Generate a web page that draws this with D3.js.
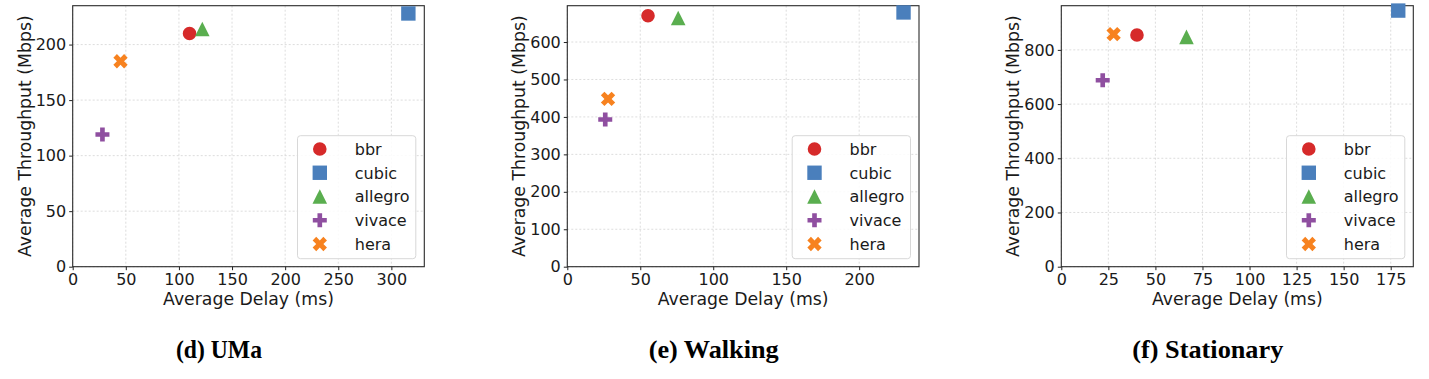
<!DOCTYPE html>
<html>
<head>
<meta charset="utf-8">
<script src="https://cdn.jsdelivr.net/npm/d3@7"></script>
<style>
  body { margin: 0; background: #fff; }
  text { font-family: "DejaVu Sans", sans-serif; fill: #1a1a1a; }
  .caption { font-family: "Liberation Serif", serif; font-weight: bold; fill: #000; }
</style>
</head>
<body>
<div id="chart"></div>
<script>
// schemes, same order in every panel
var methods = ["bbr", "cubic", "allegro", "vivace", "hera"];
var colors = ["#d62a2a", "#4a7fbc", "#5aae4f", "#8f4fa0", "#f7821f"];
var shapes = ["circle", "square", "triangle", "plus", "x"];

// (d) UMa
var umaDelay = [110, 316, 122, 28, 45];
var umaTput = [210, 228, 214, 119, 185];
// (e) Walking
var walkDelay = [55.3, 230.4, 76, 26, 27.9];
var walkTput = [670, 679, 664, 393, 448];
// (f) Stationary
var statDelay = [40.2, 179, 66.5, 22, 27.8];
var statTput = [855, 945, 848, 688, 858];

var captions = ["(d) UMa", "(e) Walking", "(f) Stationary"];
var xMax = [331, 241, 187];
var yMax = [235, 697, 963];
var xTicks = [[0, 50, 100, 150, 200, 250, 300], [0, 50, 100, 150, 200], [0, 25, 50, 75, 100, 125, 150, 175]];
var yTicks = [[0, 50, 100, 150, 200], [0, 100, 200, 300, 400, 500, 600], [0, 200, 400, 600, 800]];

var delays = [umaDelay, walkDelay, statDelay];
var tputs = [umaTput, walkTput, statTput];

var W = 1429, H = 379;
var lefts = [72.7, 567.3, 1061.3];
var rights = [424.3, 919, 1413.3];
var top0 = 5.7, bottom0 = 266.7;
var capWidths = [86, 130, 151];

var svg = d3.select("#chart").append("svg")
  .attr("width", W)
  .attr("height", H);

function markerPath(kind) {
  var p;
  if (kind == "circle") {
    p = d3.path();
    p.arc(0, 0, 6.8, 0, 2 * Math.PI);
    return p.toString();
  }
  if (kind == "square") {
    var s = 7.2;
    return "M" + (-s) + "," + (-s) + "H" + s + "V" + s + "H" + (-s) + "Z";
  }
  if (kind == "triangle") {
    var s = 7.3;
    return "M0," + (-s) + "L" + s + "," + s + "L" + (-s) + "," + s + "Z";
  }
  // plus and x share the same outline, x is turned 45deg
  var s = kind == "plus" ? 7 : 7.6;
  var t = s / 3;
  var pts = [[-t, -s], [t, -s], [t, -t], [s, -t], [s, t], [t, t], [t, s], [-t, s], [-t, t], [-s, t], [-s, -t], [-t, -t]];
  if (kind == "x") {
    var c = Math.SQRT1_2;
    pts = pts.map(function(q) { return [c * (q[0] - q[1]), c * (q[0] + q[1])]; });
  }
  return "M" + pts.map(function(q) { return q[0].toFixed(2) + "," + q[1].toFixed(2); }).join("L") + "Z";
}

for (var i = 0; i < 3; i++) {
  var left = lefts[i], right = rights[i];

  var x = d3.scaleLinear().domain([0, xMax[i]]).range([left, right]);
  var y = d3.scaleLinear().domain([0, yMax[i]]).range([bottom0, top0]);

  var g = svg.append("g").attr("class", "panel" + i);

  // grid
  g.append("g").selectAll("line.gx")
    .data(xTicks[i])
    .enter().append("line")
    .attr("x1", function(d) { return x(d); })
    .attr("x2", function(d) { return x(d); })
    .attr("y1", top0)
    .attr("y2", bottom0)
    .attr("stroke", "#d4d4d4")
    .attr("stroke-width", 0.8)
    .attr("stroke-dasharray", "2,2");

  g.append("g").selectAll("line.gy")
    .data(yTicks[i])
    .enter().append("line")
    .attr("x1", left)
    .attr("x2", right)
    .attr("y1", function(d) { return y(d); })
    .attr("y2", function(d) { return y(d); })
    .attr("stroke", "#d4d4d4")
    .attr("stroke-width", 0.8)
    .attr("stroke-dasharray", "2,2");

  // axes
  var xAxis = g.append("g")
    .attr("transform", "translate(0," + bottom0 + ")")
    .call(d3.axisBottom(x).tickValues(xTicks[i]).tickSize(3.5).tickPadding(3.5).tickSizeOuter(0));
  var yAxis = g.append("g")
    .attr("transform", "translate(" + left + ",0)")
    .call(d3.axisLeft(y).tickValues(yTicks[i]).tickSize(3.5).tickPadding(3).tickSizeOuter(0));

  [xAxis, yAxis].forEach(function(a) {
    a.select(".domain").remove();
    a.selectAll("line").attr("stroke", "#222").attr("stroke-width", 1);
    a.selectAll("text")
      .style("font-family", "DejaVu Sans")
      .style("font-size", "16px")
      .attr("fill", "#1a1a1a");
  });

  // frame
  g.append("rect")
    .attr("x", left)
    .attr("y", top0)
    .attr("width", right - left)
    .attr("height", bottom0 - top0)
    .attr("fill", "none")
    .attr("stroke", "#2a2a2a")
    .attr("stroke-width", 1.1);

  // axis labels
  g.append("text")
    .attr("x", (left + right) / 2)
    .attr("y", 304.5)
    .attr("text-anchor", "middle")
    .style("font-size", "17.3px")
    .text("Average Delay (ms)");

  g.append("text")
    .attr("transform", "translate(" + (left - 48) + "," + ((top0 + bottom0) / 2) + ") rotate(-90)")
    .attr("text-anchor", "middle")
    .attr("dominant-baseline", "central")
    .style("font-size", "17.3px")
    .text("Average Throughput (Mbps)");

  // points
  var pts = methods.map(function(m, k) {
    return { name: m, d: delays[i][k], t: tputs[i][k], color: colors[k], shape: shapes[k] };
  });

  g.append("g").selectAll("path")
    .data(pts)
    .enter().append("path")
    .attr("transform", function(d) { return "translate(" + x(d.d) + "," + y(d.t) + ")"; })
    .attr("d", function(d) { return markerPath(d.shape); })
    .attr("fill", function(d) { return d.color; });

  // legend
  var lx = right - 8.5 - 118.3;
  var leg = g.append("g");
  leg.append("rect")
    .attr("x", lx)
    .attr("y", 135.7)
    .attr("width", 118.3)
    .attr("height", 123)
    .attr("rx", 3)
    .attr("fill", "#fff")
    .attr("fill-opacity", 0.85)
    .attr("stroke", "#d8d8d8")
    .attr("stroke-width", 1);

  var row = leg.selectAll("g.row")
    .data(pts)
    .enter().append("g")
    .attr("transform", function(d, k) { return "translate(" + lx + "," + (149 + k * 23.75) + ")"; });

  row.append("path")
    .attr("transform", "translate(22.3,0)")
    .attr("d", function(d) { return markerPath(d.shape); })
    .attr("fill", function(d) { return d.color; });

  row.append("text")
    .attr("x", 57.3)
    .attr("dy", "0.36em")
    .style("font-size", "16px")
    .text(function(d) { return d.name; });

  // caption
  svg.append("text")
    .attr("class", "caption")
    .attr("x", (left + right) / 2 - 29.5)
    .attr("y", 357.5)
    .attr("text-anchor", "middle")
    .attr("textLength", capWidths[i])
    .attr("lengthAdjust", "spacingAndGlyphs")
    .style("font-size", "26px")
    .text(captions[i]);
}
</script>
</body>
</html>
